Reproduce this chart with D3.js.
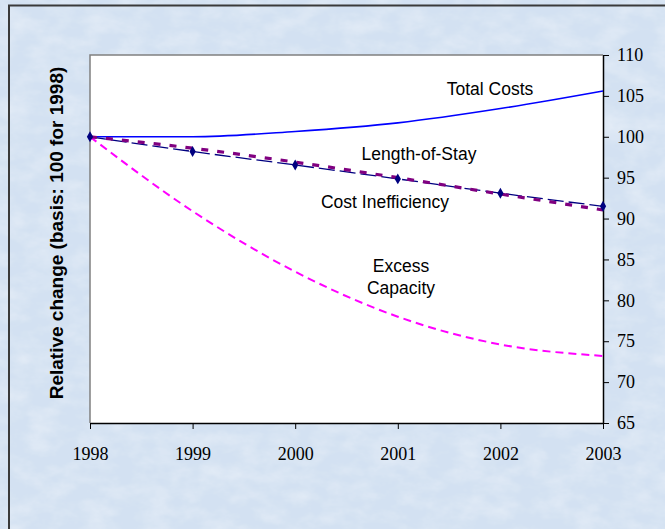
<!DOCTYPE html>
<html>
<head>
<meta charset="utf-8">
<script src="https://cdn.jsdelivr.net/npm/d3@7"></script>
<style>
  html, body { margin: 0; padding: 0; background: #dce7f4; }
  svg { display: block; }
</style>
</head>
<body>
<svg id="chart" width="665" height="529"></svg>
<script>
// ---- data ----
const years = [1998, 1999, 2000, 2001, 2002, 2003];
const totalCosts      = [100, 100, 100.65, 101.7, 103.45, 105.6];
const lengthOfStay    = [100, 98.2, 96.55, 94.85, 93.1, 91.5];
const costInefficiency= [100, 98.6, 96.9, 95.0, 93.0, 91.05];
const excessCapacity  = [100, 90.9, 83.5, 78.0, 74.6, 73.2];
const yTicks = [65, 70, 75, 80, 85, 90, 95, 100, 105, 110];
const yTitle = "Relative change (basis: 100 for 1998)";

const W = 665, H = 529;
const plot = { left: 90, right: 603, top: 55, bottom: 423 };

const svg = d3.select("#chart");
const defs = svg.append("defs");

// marble-like light blue texture
const f = defs.append("filter").attr("id", "marble").attr("x", 0).attr("y", 0).attr("width", "100%").attr("height", "100%");
f.append("feTurbulence").attr("type", "fractalNoise").attr("baseFrequency", "0.035 0.06").attr("numOctaves", 4).attr("seed", 3).attr("result", "noise");
f.append("feColorMatrix").attr("in", "noise").attr("type", "matrix")
  .attr("values", "0 0 0 0 1  0 0 0 0 1  0 0 0 0 1  0.55 0 0 0 -0.2").attr("result", "white");
f.append("feComposite").attr("in", "white").attr("in2", "SourceGraphic").attr("operator", "in").attr("result", "w2");
f.append("feMerge").call(m => { m.append("feMergeNode").attr("in", "SourceGraphic"); m.append("feMergeNode").attr("in", "w2"); });

svg.append("rect").attr("x", 0).attr("y", 0).attr("width", W).attr("height", H)
  .attr("fill", "#d3e1f2").attr("filter", "url(#marble)");

// outer frame
svg.append("rect").attr("x", 9).attr("y", 5.5).attr("width", 700).attr("height", 600)
  .attr("fill", "none").attr("stroke", "#3a3a3a").attr("stroke-width", 2);

// plot area
svg.append("rect").attr("x", plot.left).attr("y", plot.top)
  .attr("width", plot.right - plot.left).attr("height", plot.bottom - plot.top)
  .attr("fill", "#ffffff");
svg.append("path")
  .attr("d", `M${plot.left},${plot.bottom}V${plot.top}H${plot.right}`)
  .attr("fill", "none").attr("stroke", "#808080").attr("stroke-width", 1.5);

const x = d3.scalePoint().domain(years).range([plot.left, plot.right]);
const y = d3.scaleLinear().domain([65, 110]).range([plot.bottom, plot.top]);

// axes
const xAxis = svg.append("g").attr("transform", `translate(0,${plot.bottom})`)
  .call(d3.axisBottom(x).tickSizeInner(6).tickSizeOuter(0).tickPadding(18));
const yAxis = svg.append("g").attr("transform", `translate(${plot.right},0)`)
  .call(d3.axisRight(y).tickValues(yTicks).tickSizeInner(6).tickSizeOuter(0).tickPadding(8));
[xAxis, yAxis].forEach(g => {
  g.selectAll("path.domain").attr("stroke", "#000").attr("stroke-width", 1.5);
  g.selectAll(".tick line").attr("stroke", "#000").attr("stroke-width", 1);
  g.selectAll("text").attr("fill", "#000")
    .style("font-family", "'Liberation Serif', 'Times New Roman', serif").style("font-size", "18px");
});

// lines
const line = d3.line().x((d, i) => x(years[i])).y(d => y(d)).curve(d3.curveMonotoneX);

svg.append("path").datum(excessCapacity).attr("d", line)
  .attr("fill", "none").attr("stroke", "#ff00ff").attr("stroke-width", 2).attr("stroke-dasharray", "8,5");
svg.append("path").datum(totalCosts).attr("d", line)
  .attr("fill", "none").attr("stroke", "#0000ff").attr("stroke-width", 1.6);
svg.append("path").datum(lengthOfStay).attr("d", line)
  .attr("fill", "none").attr("stroke", "#000080").attr("stroke-width", 1.3).attr("stroke-dasharray", "16,5");
svg.append("path").datum(costInefficiency).attr("d", line)
  .attr("fill", "none").attr("stroke", "#800080").attr("stroke-width", 3.2).attr("stroke-dasharray", "7,9");

// diamond markers on Length-of-Stay
svg.append("g").selectAll("path").data(lengthOfStay).join("path")
  .attr("transform", (d, i) => `translate(${x(years[i])},${y(d)})`)
  .attr("d", d3.symbol().type(d3.symbolDiamond).size(34))
  .attr("fill", "#000080");

// series labels
const lab = svg.append("g").style("font-family", "Arial, 'Liberation Sans', sans-serif")
  .style("font-size", "17.5px").attr("fill", "#000").attr("text-anchor", "middle");
lab.append("text").attr("x", 490).attr("y", 95).text("Total Costs");
lab.append("text").attr("x", 419).attr("y", 160).text("Length-of-Stay");
lab.append("text").attr("x", 385).attr("y", 208).text("Cost Inefficiency");
lab.append("text").attr("x", 401).attr("y", 272).text("Excess");
lab.append("text").attr("x", 401).attr("y", 294).text("Capacity");

// y title
svg.append("text")
  .attr("transform", `translate(63,233) rotate(-90)`)
  .attr("text-anchor", "middle")
  .style("font-family", "Arial, 'Liberation Sans', sans-serif")
  .style("font-size", "19px").style("font-weight", "bold")
  .text(yTitle);
</script>
</body>
</html>
